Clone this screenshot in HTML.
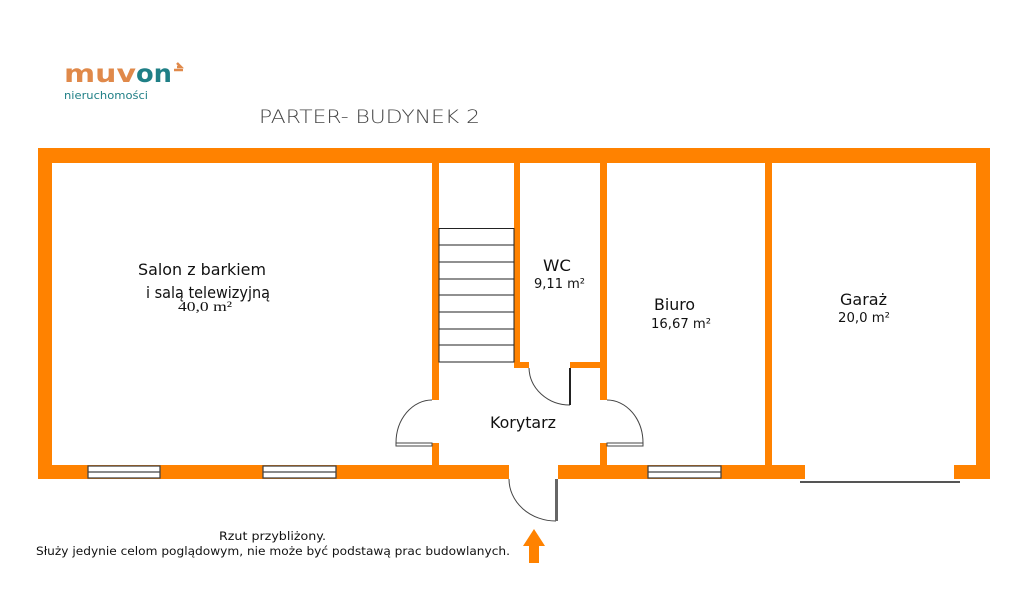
<!DOCTYPE html>
<html><head><meta charset="utf-8"><style>html,body{margin:0;padding:0;background:#fff}svg{display:block}</style></head>
<body>
<svg width="1024" height="614" viewBox="0 0 1024 614" xmlns="http://www.w3.org/2000/svg" font-family="'DejaVu Sans','Liberation Sans',sans-serif">
<text x="64" y="82" font-size="25" font-weight="bold" fill="#e0894a" textLength="72" lengthAdjust="spacingAndGlyphs">muv</text>
<text x="136" y="82" font-size="25" font-weight="bold" fill="#1f7f86" textLength="36" lengthAdjust="spacingAndGlyphs">on</text>
<path d="M177 63 L181 67 L177 67 M174 70 L183 70" stroke="#e0894a" stroke-width="2.5" fill="none"/>
<text x="64" y="99" font-size="10.5" fill="#1f7f86" textLength="84" lengthAdjust="spacingAndGlyphs">nieruchomości</text>
<text x="259" y="123" font-size="19" font-weight="200" fill="#444" textLength="221" lengthAdjust="spacingAndGlyphs">PARTER- BUDYNEK 2</text>
<g fill="#ff8200">
<rect x="38" y="148" width="952" height="15"/>
<rect x="38" y="148" width="14" height="331"/>
<rect x="976" y="148" width="14" height="331"/>
<rect x="38" y="465" width="471" height="14"/>
<rect x="558" y="465" width="247" height="14"/>
<rect x="954" y="465" width="36" height="14"/>
<rect x="432" y="148" width="7" height="252"/>
<rect x="432" y="443" width="7" height="30"/>
<rect x="514" y="148" width="6" height="219"/>
<rect x="514" y="362" width="15" height="6"/>
<rect x="570" y="362" width="37" height="6"/>
<rect x="600" y="148" width="7" height="252"/>
<rect x="600" y="443" width="7" height="30"/>
<rect x="765" y="148" width="7" height="325"/>
</g>
<g fill="#fff" stroke="#444" stroke-width="1.3">
<rect x="88" y="466" width="72" height="12"/><line x1="88" y1="472" x2="160" y2="472"/>
<rect x="263" y="466" width="73" height="12"/><line x1="263" y1="472" x2="336" y2="472"/>
<rect x="648" y="466" width="73" height="12"/><line x1="648" y1="472" x2="721" y2="472"/>
</g>
<g fill="none" stroke="#222" stroke-width="1">
<rect x="439" y="228.5" width="75" height="133.5"/>
<line x1="439" y1="245" x2="514" y2="245"/><line x1="439" y1="262" x2="514" y2="262"/>
<line x1="439" y1="279" x2="514" y2="279"/><line x1="439" y1="295" x2="514" y2="295"/>
<line x1="439" y1="312" x2="514" y2="312"/><line x1="439" y1="329" x2="514" y2="329"/>
<line x1="439" y1="345" x2="514" y2="345"/>
</g>
<g fill="none" stroke="#444" stroke-width="1">
<path d="M529 368 A41 38 0 0 0 570 405"/>
<path d="M432 400 A36 43 0 0 0 396 443"/>
<path d="M607 400 A36 43 0 0 1 643 443"/>
<path d="M509 479 A47 42 0 0 0 556 521"/>
<rect x="396" y="443" width="36" height="3"/>
<rect x="607" y="443" width="36" height="3"/>
<line x1="800" y1="482" x2="960" y2="482" stroke="#555" stroke-width="2"/>
</g>
<rect x="569" y="368" width="2" height="37" fill="#222"/>
<rect x="555" y="479" width="3" height="42" fill="#666"/>
<path d="M534 529 L545 546 L539 546 L539 563 L529 563 L529 546 L523 546 Z" fill="#ff8200"/>
<g fill="#111" font-size="16">
<text x="138" y="275" textLength="128" lengthAdjust="spacingAndGlyphs">Salon z barkiem</text>
<text x="146" y="298" textLength="124" lengthAdjust="spacingAndGlyphs">i salą telewizyjną</text>
<text x="543" y="271" textLength="28" lengthAdjust="spacingAndGlyphs">WC</text>
<text x="654" y="310" textLength="41" lengthAdjust="spacingAndGlyphs">Biuro</text>
<text x="840" y="305" textLength="47" lengthAdjust="spacingAndGlyphs">Garaż</text>
<text x="490" y="428" textLength="66" lengthAdjust="spacingAndGlyphs">Korytarz</text>
</g>
<text x="178" y="311" font-size="14" font-family="'Liberation Serif',serif" fill="#111" textLength="54" lengthAdjust="spacingAndGlyphs">40,0 m²</text>
<g fill="#111" font-size="13">
<text x="534" y="288" textLength="51" lengthAdjust="spacingAndGlyphs">9,11 m²</text>
<text x="651" y="328" textLength="60" lengthAdjust="spacingAndGlyphs">16,67 m²</text>
<text x="838" y="322" textLength="52" lengthAdjust="spacingAndGlyphs">20,0 m²</text>
</g>
<g fill="#111" font-size="11.5">
<text x="219" y="540" textLength="107" lengthAdjust="spacingAndGlyphs">Rzut przybliżony.</text>
<text x="36" y="555" textLength="474" lengthAdjust="spacingAndGlyphs">Służy jedynie celom poglądowym, nie może być podstawą prac budowlanych.</text>
</g>
</svg>
</body></html>
